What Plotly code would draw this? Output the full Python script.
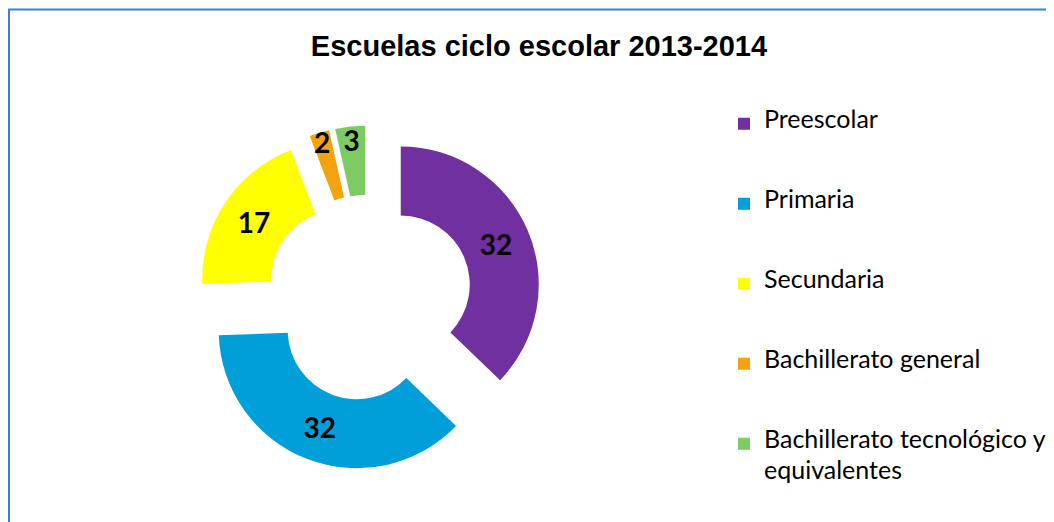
import plotly.graph_objects as go

categories = ["Preescolar", "Primaria", "Secundaria", "Bachillerato general",
              "Bachillerato tecnológico y<br>equivalentes"]
values = [32, 32, 17, 2, 3]
colors = ["#7030A0", "#009FDA", "#FFFF00", "#F4A30F", "#7DCB63"]
title_text = "Escuelas ciclo escolar 2013-2014"

W, H = 1054, 522
OFF = 8  # page body margin offset

# legend labels: larger visible text; blank lines space the entries (base line height ~15.4px)
legend_labels = []
for i, c in enumerate(categories):
    parts = c.split("<br>")
    txt = "<br> <br>".join(f"<span style='font-size:25px'>{p}</span>" for p in parts)
    if i < len(categories) - 1:
        txt += "<br> <br> <br> <br> "
    legend_labels.append(txt)

cx, cy, half = 369 - OFF, 298 - OFF, 172.5

fig = go.Figure()
fig.add_trace(go.Pie(
    labels=legend_labels,
    values=values,
    hole=0.5,
    pull=[0.25] * len(values),
    sort=False,
    direction="clockwise",
    rotation=0,
    marker=dict(colors=colors, line=dict(width=0)),
    textinfo="value",
    textposition="inside",
    insidetextorientation="horizontal",
    textfont=dict(family="Lato", size=28, color="black", weight="bold"),
    domain=dict(x=[(cx - half) / W, (cx + half) / W],
                y=[(H - cy - half) / H, (H - cy + half) / H]),
    hoverinfo="value",
))

fig.update_layout(
    width=W, height=H,
    margin=dict(l=0, r=0, t=0, b=0),
    paper_bgcolor="white",
    plot_bgcolor="white",
    title=dict(text=title_text, x=(539 - OFF) / W, xanchor="center",
               y=1 - (46 - OFF) / H, yanchor="middle",
               font=dict(family="Liberation Sans, Arial", size=29, color="black", weight="bold")),
    uniformtext=dict(minsize=28, mode="show"),
    showlegend=True,
    legend=dict(x=716 / W, xanchor="left", y=1 - 101.5 / H, yanchor="top",
                valign="top", font=dict(family="Lato", size=11.85, color="black"),
                bgcolor="rgba(0,0,0,0)", borderwidth=0),
    shapes=[dict(type="rect", xref="paper", yref="paper",
                 x0=1 / W, x1=1.02, y0=-0.05, y1=1 - 1.5 / H,
                 line=dict(color="#3C82D2", width=2), fillcolor="rgba(0,0,0,0)", layer="below")],
)

fig.write_html("out.html")
